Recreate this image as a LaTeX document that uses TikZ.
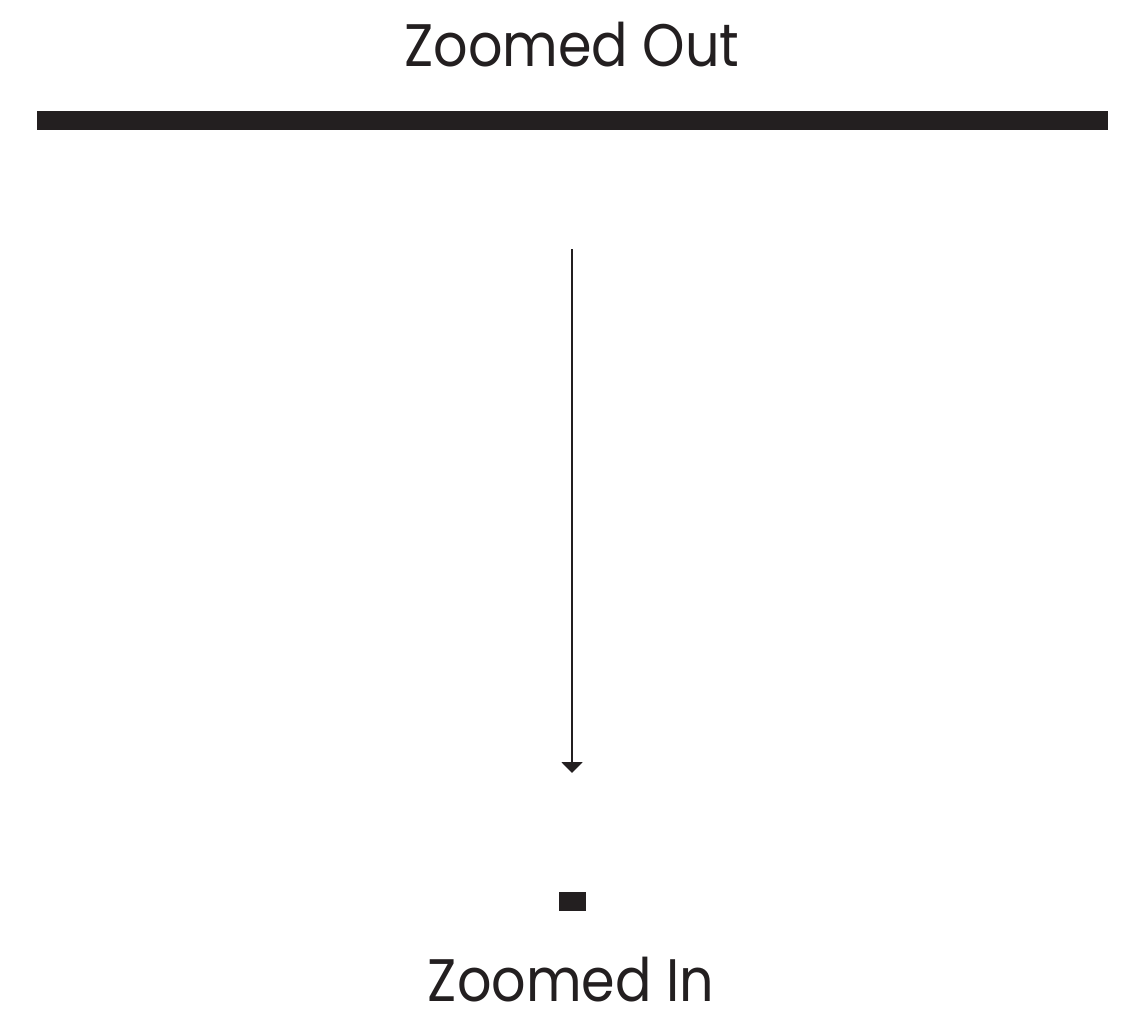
\documentclass[tikz,border=0pt]{standalone}
\usepackage{fontspec}
\setmainfont{Poppins}
\usetikzlibrary{arrows.meta}
\definecolor{ink}{HTML}{231F20}
\begin{document}
\begin{tikzpicture}[x=1pt,y=-1pt,
  lbl/.style={font=\fontsize{60}{60}\selectfont, text=ink, inner sep=0pt, anchor=base, xscale=0.9, transform shape},
  bar/.style={fill=ink, draw=none}]
\useasboundingbox (0,0) rectangle (1127,1011);
\node[lbl] (out) at (572,67) {Zoomed Out};
\fill[bar] (37,111) rectangle (1108,130);
\coordinate (top) at (572,249);
\coordinate (tip) at (572,773);
\draw[ink, line width=2pt, -{Triangle[width=21pt,length=11pt]}] (top) -- (tip);
\fill[bar] (559,892) rectangle (586,911);
\node[lbl] (in) at (571,1001) {Zoomed In};
\end{tikzpicture}
\end{document}
